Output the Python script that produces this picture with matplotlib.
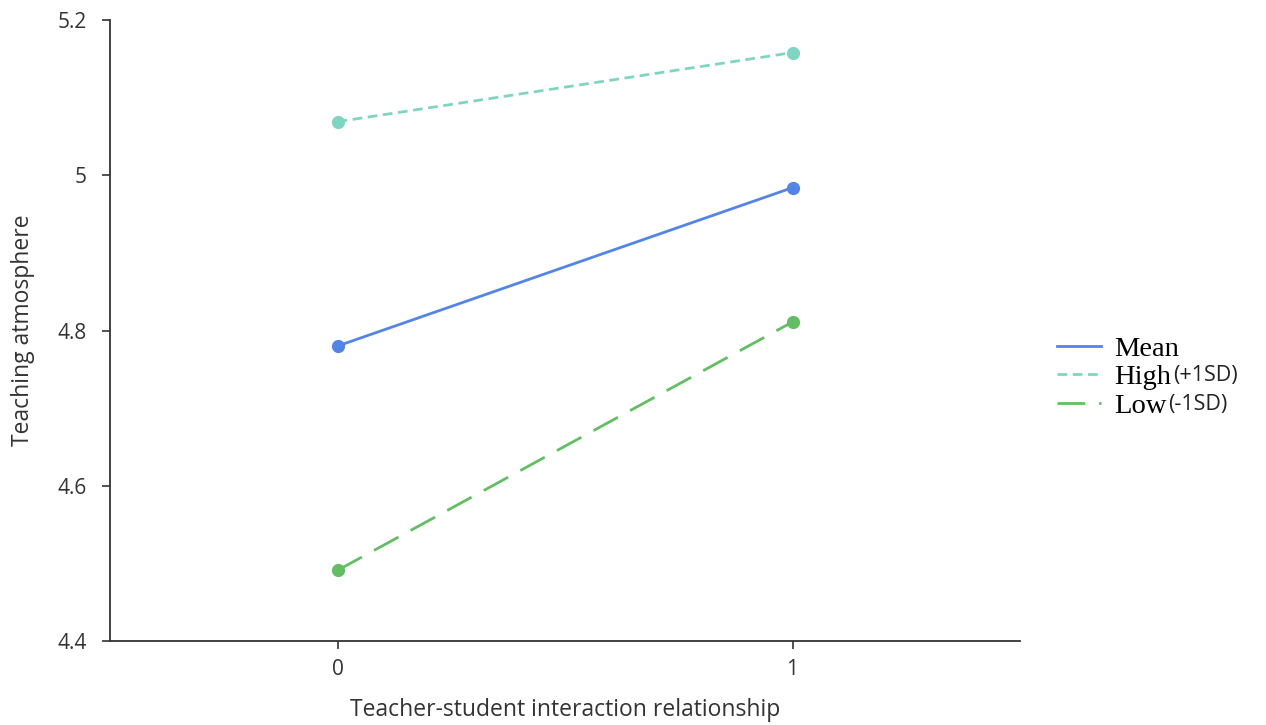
import matplotlib
matplotlib.use("Agg")
import matplotlib.pyplot as plt

x_levels = [0, 1]
mean_vals = [4.780, 4.984]
high_vals = [5.069, 5.158]
low_vals = [4.491, 4.811]
y_ticks = [4.4, 4.6, 4.8, 5.0, 5.2]
y_ticklabels = ["4.4", "4.6", "4.8", "5", "5.2"]
x_ticks = [0, 1]
x_ticklabels = ["0", "1"]
series_names = ["Mean", "High", "Low"]
series_suffix = ["", "(+1SD)", "(-1SD)"]

plt.rcParams['font.family'] = ['Open Sans', 'DejaVu Sans']

fig = plt.figure(figsize=(12.66, 7.25), dpi=100)
ax = fig.add_axes([110/1266, 1 - 641/725, (1020-110)/1266, (641-20)/725])

ax.plot(x_levels, mean_vals, color='#5385E6', lw=2, marker='o', ms=8.5,
        label=series_names[0])
ax.plot(x_levels, high_vals, color='#7ED6C2', lw=2, marker='o', ms=8.5,
        dashes=(3.5, 2), label=series_names[1])
ax.plot(x_levels, low_vals, color='#63BE63', lw=2, marker='o', ms=8.5,
        dashes=(10, 5), label=series_names[2])

ax.set_xlim(-0.5, 1.5)
ax.set_ylim(4.4, 5.2)
ax.set_yticks(y_ticks)
ax.set_yticklabels(y_ticklabels)
ax.set_xticks(x_ticks)
ax.set_xticklabels(x_ticklabels)
for s in ['top', 'right']:
    ax.spines[s].set_visible(False)
for s in ['left', 'bottom']:
    ax.spines[s].set_color('#333333')
    ax.spines[s].set_linewidth(1.3)
ax.tick_params(axis='both', labelsize=15, colors='#333333', length=6, width=1.2)
ax.tick_params(axis='y', pad=11)
ax.tick_params(axis='x', pad=7)
ax.set_xlabel('Teacher-student interaction relationship', fontsize=16.5,
              color='#333333', labelpad=13)
ax.set_ylabel('Teaching atmosphere', fontsize=16.5, color='#333333', labelpad=16)

leg = ax.legend(loc='upper left', bbox_to_anchor=(1.028, 0.51), frameon=False,
                prop={'family': 'Liberation Serif', 'size': 20.5},
                handlelength=1.55, handletextpad=0.45, labelspacing=0.1,
                borderaxespad=0)
for line in leg.get_lines():
    line.set_marker('')

fig.canvas.draw()
renderer = fig.canvas.get_renderer()
for t, suf in zip(leg.get_texts(), series_suffix):
    if not suf:
        continue
    bb = t.get_window_extent(renderer)
    bx, by = t.get_transform().transform(t.get_position())
    fig.text((bb.x1 + 2) / fig.bbox.width, (by + 3) / fig.bbox.height, suf,
             fontsize=15.5, color='#222222', va='baseline', ha='left')

fig.savefig('out.png', dpi=100)
